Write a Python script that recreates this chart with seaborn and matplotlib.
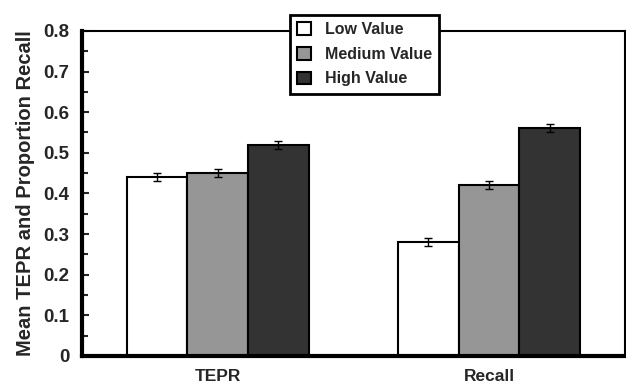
import matplotlib
matplotlib.use("Agg")
import matplotlib.pyplot as plt
from matplotlib.ticker import MultipleLocator, FuncFormatter
import seaborn as sns
import pandas as pd

# values
measures = ["TEPR", "Recall"]
levels = ["Low Value", "Medium Value", "High Value"]
tepr_means = [0.44, 0.45, 0.52]
recall_means = [0.28, 0.42, 0.56]
tepr_err = [0.01, 0.01, 0.01]
recall_err = [0.01, 0.01, 0.01]
colors = ["#ffffff", "#969696", "#333333"]

df = pd.DataFrame({
    "measure": [m for m in measures for _ in levels],
    "level": levels * 2,
    "value": tepr_means + recall_means,
    "err": tepr_err + recall_err,
})

sns.set_style("white")
plt.rcParams["font.family"] = ["Liberation Sans", "DejaVu Sans"]
plt.rcParams["font.weight"] = "bold"

fig = plt.figure(figsize=(6.26, 3.86), dpi=100)
ax = fig.add_axes([0.131, 0.078, 0.867, 0.842])

sns.barplot(data=df, x="measure", y="value", hue="level", order=measures,
            hue_order=levels, palette=colors, width=0.67, errorbar=None,
            edgecolor="black", linewidth=1.5, saturation=1, ax=ax)

# error bars from the drawn bars
for i, lvl in enumerate(levels):
    cont = ax.containers[i]
    for j, bar in enumerate(cont):
        row = df[(df["level"] == lvl) & (df["measure"] == measures[j])].iloc[0]
        ax.errorbar(bar.get_x() + bar.get_width() / 2, row["value"], yerr=row["err"],
                    fmt="none", ecolor="black", elinewidth=1, capsize=3, capthick=1)

ax.set_ylim(0, 0.8)
ax.set_xlim(-0.5, 1.5)
ax.yaxis.set_major_locator(MultipleLocator(0.1))
ax.yaxis.set_minor_locator(MultipleLocator(0.05))
ax.yaxis.set_major_formatter(FuncFormatter(lambda v, p: "0" if abs(v) < 1e-9 else f"{v:.1f}"))
ax.tick_params(axis="y", which="both", direction="in", left=True, width=1.5,
               labelsize=13.5, pad=9)
ax.tick_params(axis="y", which="major", length=5)
ax.tick_params(axis="y", which="minor", length=4)
ax.tick_params(axis="x", bottom=False, labelsize=12.5, pad=6)
for lab in ax.get_xticklabels() + ax.get_yticklabels():
    lab.set_fontweight("bold")

ax.set_xlabel("")
ax.set_ylabel("Mean TEPR and Proportion Recall", fontsize=14.5, fontweight="bold", labelpad=6)

for side in ["left", "bottom"]:
    ax.spines[side].set_linewidth(3)
for side in ["top", "right"]:
    ax.spines[side].set_linewidth(1.5)
for s in ax.spines.values():
    s.set_color("black")
    s.set_visible(True)

leg = ax.legend(loc="upper left", bbox_to_anchor=(0.463, 0.961),
                bbox_transform=fig.transFigure, frameon=True, fancybox=False,
                prop={"weight": "bold", "size": 11.5}, handlelength=0.85,
                handleheight=0.85, handletextpad=0.9, labelspacing=0.6,
                borderpad=0.45, borderaxespad=0)
leg.get_frame().set_edgecolor("black")
leg.get_frame().set_linewidth(2)
leg.get_frame().set_alpha(1)

fig.savefig("out.png", dpi=100)
